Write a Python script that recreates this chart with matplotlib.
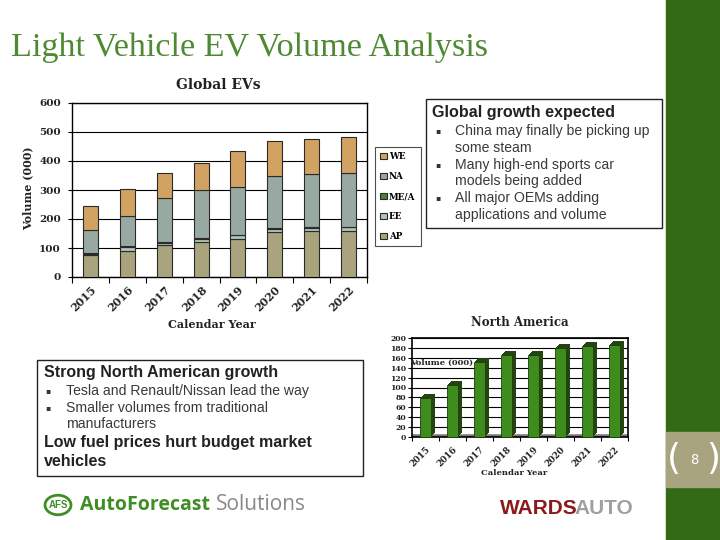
import numpy as np
import matplotlib
matplotlib.use("Agg")
import matplotlib.pyplot as plt
from matplotlib.patches import Rectangle, Circle, Patch
from matplotlib.transforms import offset_copy

# ---------------- data ----------------
years = ['2015', '2016', '2017', '2018', '2019', '2020', '2021', '2022']
ap = [76, 91, 109, 119, 132, 154, 157, 157]
ee = [5, 13, 9, 13, 12, 12, 13, 14]
mea = [1, 2, 3, 2, 2, 2, 2, 2]
na = [79, 106, 151, 165, 166, 180, 183, 185]
we = [83, 91, 86, 94, 122, 121, 121, 125]
series_names = ['AP', 'EE', 'ME/A', 'NA', 'WE']
series_colors = ['#A9A47E', '#ADC5BB', '#4F7F2F', '#97A9A1', '#D2A262']
na_region = [79, 106, 151, 165, 166, 180, 183, 185]

W, H = 720, 540
SERIF = ['DejaVu Serif']
SANS = ['Liberation Sans', 'DejaVu Sans']


def rect(x0, y0, x1, y1):
    return [x0 / W, 1 - y1 / H, (x1 - x0) / W, (y1 - y0) / H]


def fx(x):
    return x / W


def fy(y):
    return 1 - y / H


fig = plt.figure(figsize=(7.2, 5.4), dpi=100)
fig.patch.set_facecolor('white')

# title
fig.text(fx(11), fy(48), 'Light Vehicle EV Volume Analysis', color='#4E8A33',
         fontsize=24.6, family=['Liberation Serif'], va='center', ha='left')

# ---------------- Global EVs stacked chart ----------------
ax = fig.add_axes(rect(72, 103, 367, 277))
x = np.arange(len(years))
bottom = np.zeros(len(years))
handles = []
for vals, col, lab in zip([ap, ee, mea, na, we], series_colors, series_names):
    ax.bar(x, vals, 0.41, bottom=bottom, color=col, edgecolor='#2a2a2a',
           linewidth=0.8, zorder=3, label=lab)
    bottom += np.array(vals)
    handles.append(Patch(facecolor=col, edgecolor='#2a2a2a', linewidth=0.8, label=lab))
ax.set_xlim(-0.5, len(years) - 0.5)
ax.set_ylim(0, 600)
ax.set_yticks(range(0, 601, 100))
ax.yaxis.grid(True, color='black', linewidth=0.8)
ax.set_axisbelow(True)
ax.set_xticks(x)
ax.set_xticklabels(years, rotation=45, ha='right', rotation_mode='anchor',
                   fontsize=8, fontweight='bold', family=SERIF, color='#222222')
ax.set_xticks(np.arange(-0.5, len(years), 1), minor=True)
ax.tick_params(axis='x', which='major', length=0, pad=5)
ax.tick_params(axis='x', which='minor', length=4, width=0.8)
ax.tick_params(axis='y', length=3, width=0.8, pad=5)
for t in ax.get_yticklabels():
    t.set_fontsize(7.5)
    t.set_fontweight('bold')
    t.set_family(SERIF)
    t.set_color('#222222')
for s in ax.spines.values():
    s.set_color('black')
    s.set_linewidth(1)

fig.text(fx(28), fy(188), 'Volume (000)', rotation=90, fontsize=8, fontweight='bold',
         family=SERIF, ha='center', va='center', color='#222222')
fig.text(fx(218), fy(85), 'Global EVs', fontsize=10, fontweight='bold',
         family=SERIF, ha='center', va='center', color='#222222')
fig.text(fx(212), fy(325), 'Calendar Year', fontsize=8, fontweight='bold',
         family=SERIF, ha='center', va='center', color='#222222')

leg = fig.legend(handles=handles[::-1], loc='upper left',
                 bbox_to_anchor=(fx(375), fy(147)), bbox_transform=fig.transFigure,
                 frameon=True, fancybox=False, edgecolor='#222222',
                 prop={'family': SERIF, 'weight': 'bold', 'size': 6.3},
                 handlelength=0.75, handleheight=0.75, labelspacing=1.25,
                 borderpad=0.6, handletextpad=0.25, borderaxespad=0)
leg.get_frame().set_linewidth(0.8)

# ---------------- text box top right ----------------
fig.add_artist(Rectangle((fx(426), fy(228)), (662 - 426) / W, (228 - 99) / H,
                         transform=fig.transFigure, fill=False, ec='#222222', lw=1))
fig.text(fx(432), fy(113), 'Global growth expected', fontsize=11.6, fontweight='bold',
         family=SANS, va='center', ha='left', color='#222222')
right_lines = [(131, True, 'China may finally be picking up'),
               (148, False, 'some steam'),
               (165, True, 'Many high-end sports car'),
               (181, False, 'models being added'),
               (198, True, 'All major OEMs adding'),
               (215, False, 'applications and volume')]
for yy, bullet, txt in right_lines:
    if bullet:
        fig.text(fx(435), fy(yy), '▪', fontsize=5.5, family=['DejaVu Sans'], va='center',
                 color='#333333')
    fig.text(fx(455), fy(yy), txt, fontsize=10.1, family=SANS, va='center', color='#3a3a3a')

# ---------------- text box bottom left ----------------
fig.add_artist(Rectangle((fx(37), fy(476)), (363 - 37) / W, (476 - 360) / H,
                         transform=fig.transFigure, fill=False, ec='#222222', lw=1))
fig.text(fx(44), fy(373), 'Strong North American growth', fontsize=11.5, fontweight='bold',
         family=SANS, va='center', ha='left', color='#222222')
left_lines = [(391, True, 'Tesla and Renault/Nissan lead the way'),
              (408, True, 'Smaller volumes from traditional'),
              (424, False, 'manufacturers')]
for yy, bullet, txt in left_lines:
    if bullet:
        fig.text(fx(45), fy(yy), '▪', fontsize=5.5, family=['DejaVu Sans'], va='center',
                 color='#333333')
    fig.text(fx(66), fy(yy), txt, fontsize=10.1, family=SANS, va='center', color='#3a3a3a')
fig.text(fx(44), fy(443), 'Low fuel prices hurt budget market', fontsize=11.5,
         fontweight='bold', family=SANS, va='center', color='#222222')
fig.text(fx(44), fy(462), 'vehicles', fontsize=11.5, fontweight='bold', family=SANS,
         va='center', color='#222222')

# ---------------- North America 3D-ish bar chart ----------------
ax2 = fig.add_axes(rect(412, 338, 628, 437))
ax2.set_xlim(-0.5, len(years) - 0.5)
ax2.set_ylim(0, 200)
for d in range(1, 5):
    tr = offset_copy(ax2.transData, fig=fig, x=d, y=d, units='dots')
    ax2.bar(x, na_region, 0.42, color='#244511', transform=tr, zorder=3, clip_on=False)
ax2.bar(x, na_region, 0.42, color='#3E8C1E', edgecolor='#1E3A0C', linewidth=0.6,
        zorder=4, clip_on=False)
ax2.axhline(0, color='#7A7A7A', linewidth=4, zorder=2)
ax2.set_yticks(range(0, 201, 20))
ax2.yaxis.grid(True, color='black', linewidth=0.8)
ax2.set_axisbelow(True)
ax2.set_xticks(x)
ax2.set_xticklabels(years, rotation=45, ha='right', rotation_mode='anchor',
                    fontsize=6.3, fontweight='bold', family=SERIF, color='#222222')
ax2.set_xticks(np.arange(-0.5, len(years), 1), minor=True)
ax2.tick_params(axis='x', which='major', length=0, pad=6)
ax2.tick_params(axis='x', which='minor', length=3, width=0.8)
ax2.tick_params(axis='y', length=3, width=0.8, pad=1)
for t in ax2.get_yticklabels():
    t.set_fontsize(5.5)
    t.set_fontweight('bold')
    t.set_family(SERIF)
    t.set_color('#222222')
for s in ax2.spines.values():
    s.set_color('black')
    s.set_linewidth(1.2)
fig.text(fx(410), fy(363), 'Volume (000)', fontsize=6, family=SERIF, fontweight='bold',
         va='center', ha='left', color='#222222')
fig.text(fx(520), fy(322), 'North America', fontsize=8.5, fontweight='bold',
         family=SERIF, ha='center', va='center', color='#222222')
fig.text(fx(514), fy(473), 'Calendar Year', fontsize=6, fontweight='bold',
         family=SERIF, ha='center', va='center', color='#222222')

# ---------------- right band & page number ----------------
fig.add_artist(Rectangle((fx(666), 0), (720 - 666) / W, 1, transform=fig.transFigure,
                         color='#336A15', zorder=0))
fig.add_artist(Rectangle((fx(666), fy(487)), (720 - 666) / W, (487 - 432) / H,
                         transform=fig.transFigure, color='#A8A47F', zorder=1))
fig.text(fx(674), fy(459), '(', fontsize=26, color='white', ha='center', va='center',
         family=['DejaVu Sans'])
fig.text(fx(713), fy(459), ')', fontsize=26, color='white', ha='center', va='center',
         family=['DejaVu Sans'])
fig.text(fx(694), fy(460), '8', fontsize=10, color='white', ha='center', va='center',
         family=['DejaVu Sans Mono'])

# ---------------- logos ----------------
fig.add_artist(Circle((fx(58), fy(505)), 13 / W, transform=fig.transFigure,
                      fill=False, ec='#3F8E25', lw=2))
fig.text(fx(58), fy(505), 'AFS', fontsize=7, fontweight='bold', color='#3F8E25',
         ha='center', va='center', family=SANS)
fig.text(fx(80), fy(505), 'AutoForecast', fontsize=14, fontweight='bold', color='#3F8E25',
         ha='left', va='center', family=['Open Sans', 'DejaVu Sans'])
fig.text(fx(216), fy(505), 'Solutions', fontsize=15, color='#888888',
         ha='left', va='center', family=['Open Sans', 'DejaVu Sans'])
fig.text(fx(500), fy(509), 'WARDS', fontsize=15, fontweight='bold', color='#8B1A1A',
         ha='left', va='center', family=['Liberation Sans Narrow', 'Liberation Sans'])
fig.text(fx(574), fy(509), 'AUTO', fontsize=15, fontweight='bold', color='#A0A0A0',
         ha='left', va='center', family=['Liberation Sans Narrow', 'Liberation Sans'])

fig.savefig('out.png', dpi=100)
